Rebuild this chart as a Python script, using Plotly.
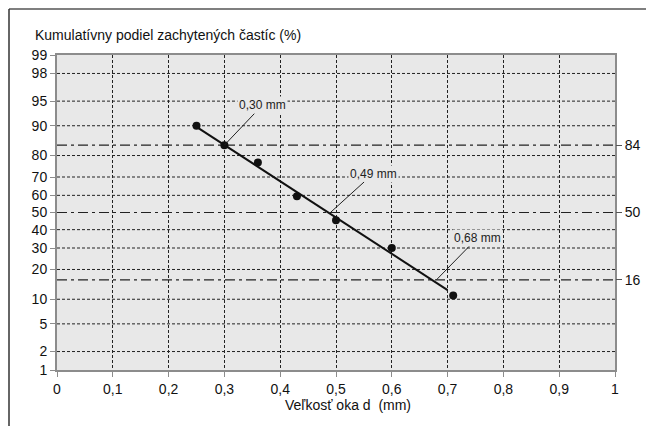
import plotly.graph_objects as go
from statistics import NormalDist

# ---- data ----
d_mm = [0.25, 0.30, 0.36, 0.43, 0.50, 0.60, 0.71]
cum_pct = [90, 84, 77, 59.5, 45.5, 30, 11]

fit_d = [0.25, 0.70]
fit_pct = [89.7, 12.6]

ref_pct = [84, 50, 16]
ref_d = [0.30, 0.49, 0.68]

y_ticks = [1, 2, 5, 10, 20, 30, 40, 50, 60, 70, 80, 90, 95, 98, 99]
x_ticks = [0, 0.1, 0.2, 0.3, 0.4, 0.5, 0.6, 0.7, 0.8, 0.9, 1]

y_title = "Kumulatívny podiel zachytených častíc (%)"
x_title = "Veľkosť oka d\u00a0\u00a0(mm)"

ND = NormalDist()
def z(p):
    return ND.inv_cdf(p / 100.0)

FONT = "Liberation Sans, Arial, sans-serif"
BG = "#e8e8e8"
AX = "#8c8c8c"

fig = go.Figure()

fig.add_trace(go.Scatter(
    x=fit_d, y=[z(p) for p in fit_pct], mode="lines",
    line=dict(color="#111111", width=2), hoverinfo="skip", showlegend=False))
fig.add_trace(go.Scatter(
    x=d_mm, y=[z(p) for p in cum_pct], mode="markers",
    marker=dict(color="#111111", size=8), showlegend=False))
# invisible trace for right axis
fig.add_trace(go.Scatter(
    x=[ref_d[1]], y=[z(ref_pct[1])], yaxis="y2", mode="markers",
    marker=dict(opacity=0), hoverinfo="skip", showlegend=False))

shapes = []
# horizontal dashed grid (excluding reference levels)
for p in y_ticks:
    if p in ref_pct or p in (1, 99):
        continue
    shapes.append(dict(type="line", xref="x domain", yref="y", x0=0, x1=1,
                       y0=z(p), y1=z(p), layer="below",
                       line=dict(color="#222222", width=1, dash="3px,2px")))
# reference dash-dot lines
for p in ref_pct:
    shapes.append(dict(type="line", xref="x domain", yref="y", x0=0, x1=1,
                       y0=z(p), y1=z(p), layer="below",
                       line=dict(color="#222222", width=1.2, dash="10px,4px,3px,4px")))
# outer frame (top & left)
shapes.append(dict(type="line", xref="paper", yref="paper",
                   x0=-48/558, x1=1.1, y0=1+46/315, y1=1+46/315,
                   line=dict(color="#555555", width=1.5)))
shapes.append(dict(type="line", xref="paper", yref="paper",
                   x0=-48/558, x1=-48/558, y0=1+46/315, y1=-0.2,
                   line=dict(color="#333333", width=1.5)))

annotations = [
    dict(xref="paper", yref="paper", x=-24/558, y=1+20/315, xanchor="left",
         yanchor="middle", text=y_title, showarrow=False,
         font=dict(family=FONT, size=14, color="#111111")),
    dict(xref="paper", yref="paper", x=(348-57)/558, y=-35/315, xanchor="center",
         yanchor="middle", text=x_title, showarrow=False,
         font=dict(family=FONT, size=14, color="#111111")),
]
offsets = [(38, -40), (43, -39), (41, -42)]
for dv, pv, (ax, ay) in zip(ref_d, ref_pct, offsets):
    annotations.append(dict(
        x=dv, y=z(pv), xref="x", yref="y",
        text=("%.2f mm" % dv).replace(".", ","),
        showarrow=True, arrowhead=0, arrowwidth=1, arrowcolor="#222222",
        ax=ax, ay=ay, bgcolor=BG, borderpad=1,
        font=dict(family=FONT, size=12, color="#222222")))

zr = [z(1), z(99)]
fig.update_layout(
    width=646, height=426,
    margin=dict(l=57, r=31, t=55, b=56, autoexpand=False),
    paper_bgcolor="white", plot_bgcolor=BG,
    separators=", ",
    font=dict(family=FONT, size=14, color="#111111"),
    shapes=shapes, annotations=annotations,
    xaxis=dict(range=[0, 1], tickvals=x_ticks, ticks="outside", ticklen=5,
               tickcolor=AX, showline=True, linecolor=AX, linewidth=2, mirror=True,
               showgrid=True, gridcolor="#222222", gridwidth=1, griddash="3px,2px",
               zeroline=False, automargin=False, tickfont=dict(family=FONT, size=14)),
    yaxis=dict(range=zr, tickvals=[z(p) for p in y_ticks],
               ticktext=[str(p) for p in y_ticks], ticks="outside", ticklen=5,
               tickcolor=AX, showline=True, linecolor=AX, linewidth=2, mirror=True,
               showgrid=False, zeroline=False, automargin=False,
               tickfont=dict(family=FONT, size=14)),
    yaxis2=dict(range=zr, overlaying="y", side="right",
                tickvals=[z(p) for p in ref_pct], ticktext=[str(p) for p in ref_pct],
                ticks="outside", ticklen=6, tickcolor="#555555", showgrid=False,
                zeroline=False, showline=False, automargin=False,
                tickfont=dict(family=FONT, size=14)),
)

fig.write_html("out.html", config={"displayModeBar": False},
               post_script="document.body.style.margin='0';")
